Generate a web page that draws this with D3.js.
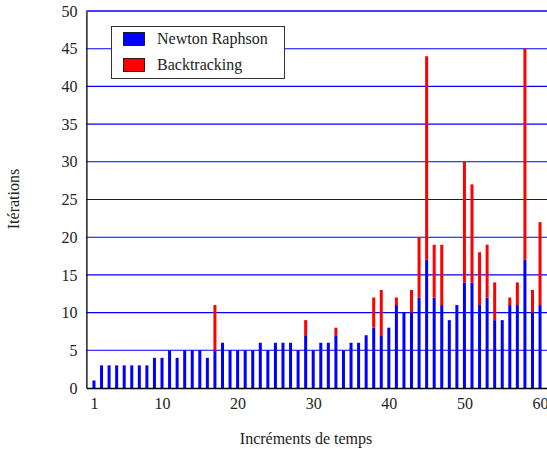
<!DOCTYPE html>
<html>
<head>
<meta charset="utf-8">
<script src="https://cdn.jsdelivr.net/npm/d3@7"></script>
<style>
  html, body { margin: 0; padding: 0; background: #fff; }
  svg { display: block; }
  text { font-family: "Liberation Serif", "DejaVu Serif", serif; fill: #222; }
</style>
</head>
<body>
<svg id="chart" width="547" height="450"></svg>
<script>
// Time steps 1..60
const steps = d3.range(1, 61);
// Newton-Raphson iterations per time step
const newton = [1,3,3,3,3,3,3,3,4,4, 5,4,5,5,5,4,5,6,5,5,
                5,5,6,5,6,6,6,5,7,5, 6,6,7,5,6,6,7,8,7,8,
                11,10,10,12,17,12,11,9,11,14, 14,11,12,9,9,11,11,17,10,11];
// Extra iterations spent in backtracking (stacked on top)
const backtracking = [0,0,0,0,0,0,0,0,0,0, 0,0,0,0,0,0,6,0,0,0,
                      0,0,0,0,0,0,0,0,2,0, 0,0,1,0,0,0,0,4,6,0,
                      1,0,3,8,27,7,8,0,0,16, 13,7,7,5,0,1,3,28,3,11];
const yTicks = [0,5,10,15,20,25,30,35,40,45,50];
const xTicks = [1,10,20,30,40,50,60];
const seriesNames = ["Newton Raphson", "Backtracking"];
const seriesColors = ["#0000ff", "#ff0000"];

const svg = d3.select("#chart");
const x = d3.scaleLinear().domain([0, 61]).range([86.4, 547.6]);
const y = d3.scaleLinear().domain([0, 50]).range([388, 11]);
const barW = 3;
const fs = 16;

// horizontal grid
svg.append("g").selectAll("line").data(yTicks.filter(d => d > 0)).join("line")
  .attr("x1", x(0)).attr("x2", 547)
  .attr("y1", d => y(d)).attr("y2", d => y(d))
  .attr("stroke", "#0000ff").attr("stroke-width", d => d === 50 ? 1.6 : 1.1);

// stacked bars
const data = steps.map((s, i) => ({ s, nr: newton[i], bt: backtracking[i] }));
svg.append("g").selectAll("rect").data(data).join("rect")
  .attr("x", d => x(d.s) - barW / 2).attr("width", barW)
  .attr("y", d => y(d.nr)).attr("height", d => y(0) - y(d.nr))
  .attr("fill", seriesColors[0]);
svg.append("g").selectAll("rect").data(data.filter(d => d.bt > 0)).join("rect")
  .attr("x", d => x(d.s) - barW / 2).attr("width", barW)
  .attr("y", d => y(d.nr + d.bt)).attr("height", d => y(d.nr) - y(d.nr + d.bt))
  .attr("fill", seriesColors[1]);

// axes
const yAxis = d3.axisLeft(y).tickValues(yTicks).tickSize(0).tickPadding(9);
const gy = svg.append("g").attr("transform", `translate(${x(0)},0)`).call(yAxis);
gy.select(".domain").attr("stroke", "#000").attr("stroke-width", 1.3);
gy.selectAll("text").attr("font-size", fs).style("font-family", "Liberation Serif, serif").attr("fill", "#222");

const xAxis = d3.axisBottom(x).tickValues(xTicks).tickSize(0).tickPadding(10);
const gx = svg.append("g").attr("transform", `translate(0,${y(0)})`).call(xAxis);
gx.select(".domain").attr("stroke", "#000").attr("stroke-width", 1.6);
gx.selectAll("text").attr("font-size", fs).style("font-family", "Liberation Serif, serif").attr("fill", "#222");

// axis titles
svg.append("text").attr("x", 306).attr("y", 444).attr("text-anchor", "middle")
  .attr("font-size", fs).text("Incréments de temps");
svg.append("text").attr("transform", "translate(19,199) rotate(-90)")
  .attr("text-anchor", "middle").attr("font-size", fs).text("Itérations");

// legend
const lg = svg.append("g");
lg.append("rect").attr("x", 111.5).attr("y", 26.5).attr("width", 173).attr("height", 52)
  .attr("fill", "#fff").attr("stroke", "#333").attr("stroke-width", 1);
seriesNames.forEach((name, i) => {
  const yy = 32 + i * 26;
  lg.append("rect").attr("x", 123.5).attr("y", yy + 0.5).attr("width", 21).attr("height", 13)
    .attr("fill", seriesColors[i]).attr("stroke", "#000").attr("stroke-width", 0.8);
  lg.append("text").attr("x", 157).attr("y", yy + 12).attr("font-size", fs).text(name);
});
</script>
</body>
</html>
